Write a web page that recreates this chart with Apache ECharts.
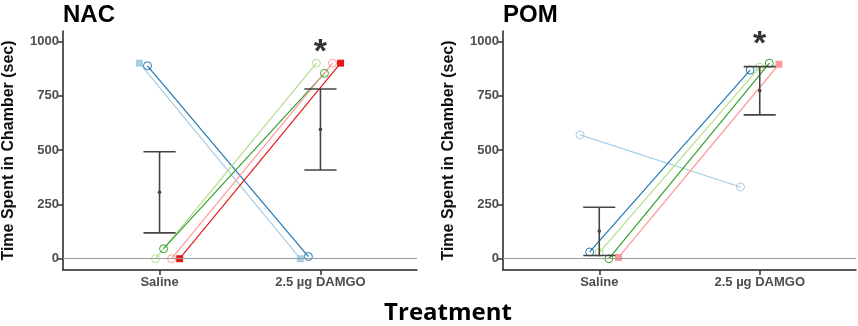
<!DOCTYPE html>
<html>
<head>
<meta charset="utf-8">
<script src="https://cdn.jsdelivr.net/npm/echarts@6/dist/echarts.min.js"></script>
<style>
  html, body { margin: 0; padding: 0; background: #fff; }
  #chart { width: 858px; height: 326px; }
</style>
</head>
<body>
<div id="chart"></div>
<script>
// treatments (x positions 1 and 2)
const treatments = ['Saline', '2.5 µg DAMGO'];
const yTicks = [0, 250, 500, 750, 1000];

// NAC subjects: [saline, damgo]
const nacColors = ['#a6cee3', '#1f78b4', '#b2df8a', '#33a02c', '#fb9a99', '#e31a1c'];
const nacSymbols = ['rect', 'circle', 'circle', 'circle', 'circle', 'rect'];
const nacSaline = [900, 888, 0, 46, 0, 0];
const nacDamgo = [0, 10, 900, 853, 900, 900];
const nacOffsets = [-0.125, -0.075, -0.025, 0.025, 0.075, 0.125];
// mean, lower, upper
const nacSalineErr = [306, 119, 492];
const nacDamgoErr = [595, 408, 781];

// POM subjects
const pomColors = ['#a6cee3', '#1f78b4', '#b2df8a', '#33a02c', '#fb9a99'];
const pomSymbols = ['circle', 'circle', 'circle', 'circle', 'rect'];
const pomSaline = [570, 31, 28, 0, 6];
const pomDamgo = [330, 868, 882, 900, 895];
const pomOffsets = [-0.12, -0.06, 0, 0.06, 0.12];
const pomSalineErr = [127, 15, 237];
const pomDamgoErr = [773, 662, 884];

const starY = [985, 1020];

const chart = echarts.init(document.getElementById('chart'));

function xAxis(idx) {
  return {
    gridIndex: idx, type: 'value', min: 0.4, max: 2.6,
    splitLine: { show: false },
    axisLine: { show: true, onZero: false, lineStyle: { color: '#222', width: 1.5 } },
    axisTick: { show: true, customValues: [1, 2], length: 5, lineStyle: { color: '#333', width: 1.5 } },
    axisLabel: {
      customValues: [1, 2], margin: 6,
      formatter: v => treatments[Math.round(v) - 1],
      color: '#4d4d4d', fontWeight: 'bold', fontSize: 13, fontFamily: 'Liberation Sans'
    }
  };
}
function yAxis(idx) {
  return {
    gridIndex: idx, type: 'value', min: -52, max: 1048,
    name: 'Time Spent in Chamber (sec)', nameLocation: 'middle', nameGap: 46,
    nameTextStyle: { fontWeight: 'bold', fontSize: 16, color: '#111', fontFamily: 'Liberation Sans' },
    splitLine: { show: false },
    axisLine: { show: true, lineStyle: { color: '#222', width: 1.5 } },
    axisTick: { show: true, customValues: yTicks, length: 5, lineStyle: { color: '#333', width: 1.5 } },
    axisLabel: {
      customValues: yTicks, margin: 4, formatter: v => String(v),
      color: '#4d4d4d', fontWeight: 'bold', fontSize: 13, fontFamily: 'Liberation Sans'
    }
  };
}

function subjectSeries(idx, colors, symbols, sal, dam, offs) {
  return colors.map((c, i) => {
    const hollow = symbols[i] === 'circle';
    return {
      type: 'line', xAxisIndex: idx, yAxisIndex: idx,
      data: [[1 + offs[i], sal[i]], [2 + offs[i], dam[i]]],
      symbol: symbols[i], symbolSize: hollow ? 8 : 7,
      showSymbol: true,
      lineStyle: { color: c, width: 1.2 },
      itemStyle: hollow
        ? { color: 'rgba(0,0,0,0)', borderColor: c, borderWidth: 1 }
        : { color: c, borderWidth: 0 },
      z: 3, silent: true, animation: false
    };
  });
}

function errSeries(idx, sErr, dErr) {
  return {
    type: 'custom', xAxisIndex: idx, yAxisIndex: idx, z: 5, silent: true, animation: false,
    data: [[1, ...sErr], [2, ...dErr]],
    renderItem: (params, api) => {
      const x = api.value(0);
      const m = api.coord([x, api.value(1)]);
      const lo = api.coord([x, api.value(2)]);
      const hi = api.coord([x, api.value(3)]);
      const l = api.coord([x - 0.1, api.value(2)])[0];
      const r = api.coord([x + 0.1, api.value(2)])[0];
      const st = { stroke: '#444', lineWidth: 1.6 };
      return {
        type: 'group', children: [
          { type: 'line', shape: { x1: m[0], y1: lo[1], x2: m[0], y2: hi[1] }, style: st },
          { type: 'line', shape: { x1: l, y1: lo[1], x2: r, y2: lo[1] }, style: st },
          { type: 'line', shape: { x1: l, y1: hi[1], x2: r, y2: hi[1] }, style: st },
          { type: 'circle', shape: { cx: m[0], cy: m[1], r: 1.8 }, style: { fill: '#444' } }
        ]
      };
    }
  };
}

function zeroLine(idx) {
  return {
    type: 'line', xAxisIndex: idx, yAxisIndex: idx, data: [], silent: true, z: 1,
    markLine: {
      symbol: 'none', silent: true, label: { show: false }, animation: false,
      lineStyle: { color: '#9a9a9a', width: 1.2, type: 'solid' },
      data: [{ yAxis: 0 }]
    }
  };
}

function starSeries(idx, y) {
  return {
    type: 'scatter', xAxisIndex: idx, yAxisIndex: idx, symbolSize: 0, silent: true, z: 6,
    data: [[2, y]],
    label: { show: true, position: 'inside', formatter: '*', fontSize: 34, fontWeight: 'bold', color: '#000', fontFamily: 'Liberation Sans', offset: [0, 8] }
  };
}

chart.setOption({
  animation: false,
  grid: [
    { left: 63, top: 31, width: 354, height: 239 },
    { left: 503, top: 31, width: 353, height: 239 }
  ],
  title: [
    { text: 'NAC', left: 58, top: -2, textStyle: { fontSize: 24, fontWeight: 'bold', color: '#000', fontFamily: 'Liberation Sans' } },
    { text: 'POM', left: 498, top: -2, textStyle: { fontSize: 24, fontWeight: 'bold', color: '#000', fontFamily: 'Liberation Sans' } },
    { text: 'Treatment', left: 443, top: 296, textAlign: 'center', textStyle: { fontSize: 24, fontWeight: 'bold', color: '#000', fontFamily: 'Open Sans' } }
  ],
  xAxis: [xAxis(0), xAxis(1)],
  yAxis: [yAxis(0), yAxis(1)],
  series: [
    zeroLine(0), zeroLine(1),
    ...subjectSeries(0, nacColors, nacSymbols, nacSaline, nacDamgo, nacOffsets),
    ...subjectSeries(1, pomColors, pomSymbols, pomSaline, pomDamgo, pomOffsets),
    errSeries(0, nacSalineErr, nacDamgoErr),
    errSeries(1, pomSalineErr, pomDamgoErr),
    starSeries(0, starY[0]), starSeries(1, starY[1])
  ]
});
</script>
</body>
</html>
